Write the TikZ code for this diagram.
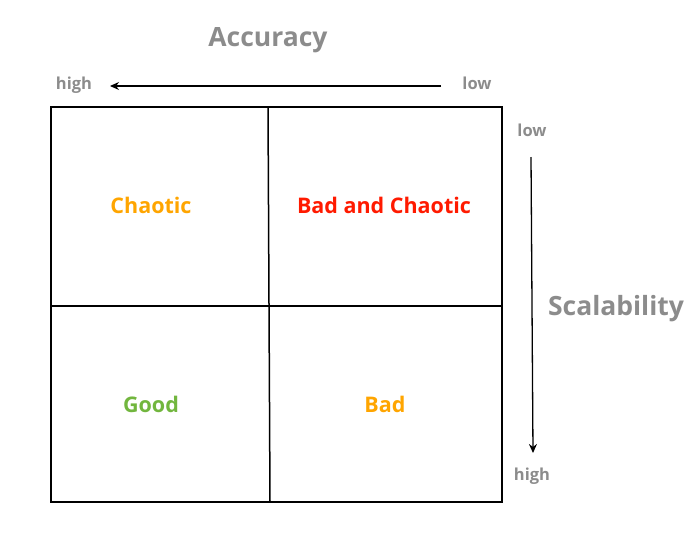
\documentclass[tikz,border=0pt]{standalone}
\usepackage{fontspec}
\setmainfont{Open Sans}
\usetikzlibrary{arrows.meta}
\definecolor{axisgray}{HTML}{8C8C8C}
\definecolor{myorange}{HTML}{FFA500}
\definecolor{myred}{HTML}{FF1A00}
\definecolor{mygreen}{HTML}{72B63E}
\begin{document}
\begin{tikzpicture}[x=1pt,y=-1pt,
  grid/.style={draw=black, line width=1.5pt},
  axisarrow/.style={draw=black, line width=1.3pt, -{Stealth[length=9pt,width=8pt]}},
  smalllab/.style={text=axisgray, font=\bfseries\fontsize{16.5}{19}\selectfont, inner sep=0pt},
  title/.style={text=axisgray, font=\bfseries\fontsize{26.5}{30}\selectfont, inner sep=0pt},
  cell/.style={font=\bfseries\fontsize{21.5}{25}\selectfont, inner sep=0pt}]
\useasboundingbox (0,0) rectangle (700,549);
% grid
\coordinate (tl) at (51,107);
\coordinate (br) at (502,502);
\coordinate (mt) at (268,107);
\coordinate (mb) at (270,502);
\coordinate (ml) at (51,306);
\coordinate (mr) at (502,306);
\draw[grid] (tl) rectangle (br);
\draw[grid] (mt) -- (mb);
\draw[grid] (ml) -- (mr);
% top axis
\node[title] (acc) at (268,40) {Accuracy};
\node[smalllab] (hhigh) at (74,85) {high};
\node[smalllab] (hlow) at (477,83) {low};
\coordinate (hs) at (441,86);
\coordinate (he) at (110,86);
\draw[axisarrow] (hs) -- (he);
% right axis
\node[title] (scal) at (616,309) {Scalability};
\node[smalllab] (vlow) at (532,130) {low};
\node[smalllab] (vhigh) at (532,476) {high};
\coordinate (vs) at (531,157);
\coordinate (ve) at (533,453);
\draw[axisarrow] (vs) -- (ve);
% cells
\node[cell, text=myorange] (chaotic) at (151,205) {Chaotic};
\node[cell, text=myred] (badchaotic) at (384,205) {Bad and Chaotic};
\node[cell, text=mygreen] (good) at (151,404) {Good};
\node[cell, text=myorange] (bad) at (385,404) {Bad};
\end{tikzpicture}
\end{document}
